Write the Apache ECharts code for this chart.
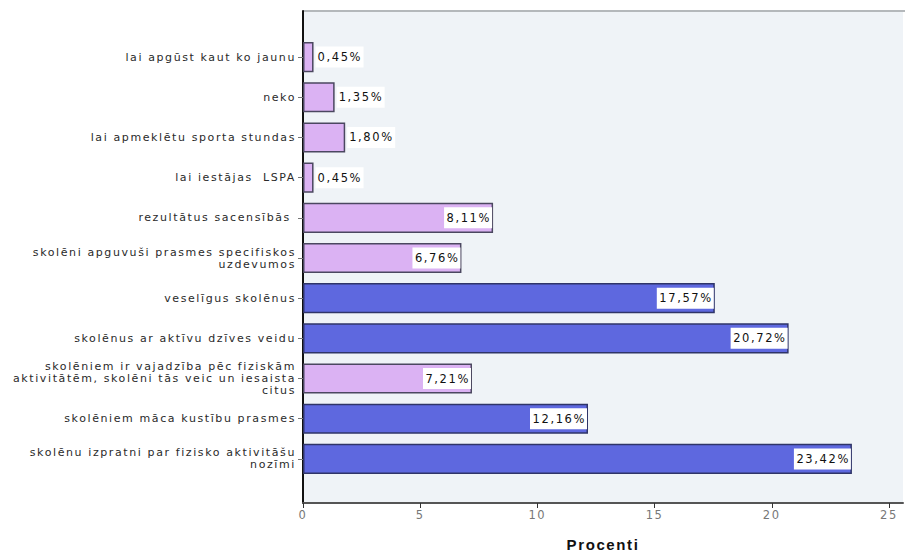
<!DOCTYPE html>
<html>
<head>
<meta charset="utf-8">
<script src="https://cdn.jsdelivr.net/npm/echarts@6/dist/echarts.min.js"></script>
<style>
  html, body { margin: 0; padding: 0; background: #ffffff; }
  #chart { width: 905px; height: 557px; }
  /* wide, airy lettering for every chart text */
  #chart svg text { letter-spacing: 1.6px; }
</style>
</head>
<body>
<div id="chart"></div>
<script>
// Answer categories, listed top to bottom
const categories = [
  'lai apgūst kaut ko jaunu',
  'neko',
  'lai apmeklētu sporta stundas',
  'lai iestājas  LSPA',
  'rezultātus sacensībās ',
  'skolēni apguvuši prasmes specifiskos\nuzdevumos',
  'veselīgus skolēnus',
  'skolēnus ar aktīvu dzīves veidu',
  'skolēniem ir vajadzība pēc fiziskām\naktivitātēm, skolēni tās veic un iesaista\ncitus',
  'skolēniem māca kustību prasmes',
  'skolēnu izpratni par fizisko aktivitāšu\nnozīmi'
];
// Share of respondents, percent
const values = [0.45, 1.35, 1.80, 0.45, 8.11, 6.76, 17.57, 20.72, 7.21, 12.16, 23.42];
// Which bars belong to the darker group
const groups = ['light', 'light', 'light', 'light', 'light', 'light', 'dark', 'dark', 'light', 'dark', 'dark'];
const xTicks = [0, 5, 10, 15, 20, 25];

const FONT = 'DejaVu Sans';
const SPACING = 1.6;

const palette = {
  light: { fill: '#dbb2f3', edge: '#4b4760' },
  dark: { fill: '#5e68df', edge: '#2f3468' }
};

const fmt = v => v.toFixed(2).replace('.', ',') + '%';

// width of a string once the extra letter spacing is applied
const meter = document.createElement('canvas').getContext('2d');
function spacedWidth(text, size) {
  meter.font = size + 'px "' + FONT + '"';
  return meter.measureText(text).width + SPACING * text.length;
}

const barData = values.map((v, i) => {
  const g = palette[groups[i]];
  const inside = v > 5;
  const txt = fmt(v);
  return {
    value: v,
    itemStyle: { color: g.fill, borderColor: g.edge, borderWidth: 1.5 },
    label: {
      position: inside ? 'insideRight' : 'right',
      distance: inside ? 1 : 2,
      width: Math.ceil(spacedWidth(txt, 11.5)),
      align: inside ? 'right' : 'left'
    }
  };
});

const chart = echarts.init(document.getElementById('chart'), null, { renderer: 'svg' });
chart.setOption({
  animation: false,
  textStyle: { fontFamily: FONT },
  grid: [
    // framed plot area with the value axis
    { left: 303, right: 2, top: 11, bottom: 54, show: true, backgroundColor: '#eff3f7', borderWidth: 0 },
    // inner area holding the bars
    { left: 303, right: 2, top: 37, bottom: 78 }
  ],
  xAxis: [
    {
      gridIndex: 0, type: 'value', min: 0, max: 25.6,
      name: 'Procenti', nameLocation: 'middle', nameGap: 34,
      nameTextStyle: { fontSize: 15, fontWeight: 'bold', color: '#111', fontFamily: 'Liberation Sans' },
      axisLine: { show: true, lineStyle: { color: '#555', width: 2 } },
      axisTick: { show: true, length: 5, inside: false, customValues: xTicks, lineStyle: { color: '#333' } },
      axisLabel: { customValues: xTicks, color: '#777', fontSize: 11.5, margin: 6 },
      splitLine: { show: false }
    },
    {
      gridIndex: 1, type: 'value', min: 0, max: 25.6, show: false
    }
  ],
  yAxis: [
    {
      gridIndex: 0, type: 'category', data: [''],
      axisLine: { show: true, lineStyle: { color: '#111', width: 2 } },
      axisTick: { show: false }, axisLabel: { show: false }
    },
    {
      gridIndex: 1, type: 'category', data: categories, inverse: true,
      axisLine: { show: false },
      axisTick: { show: true, length: 5, alignWithLabel: true, lineStyle: { color: '#777' } },
      axisLabel: { color: '#2a2a2a', fontSize: 11, lineHeight: 12, align: 'right', margin: 7, interval: 0 }
    }
  ],
  graphic: [
    // upper frame line of the plot area
    { type: 'line', shape: { x1: 303, y1: 11, x2: 905, y2: 11 }, style: { stroke: '#b4b8bb', lineWidth: 2 } }
  ],
  series: [{
    type: 'bar',
    xAxisIndex: 1, yAxisIndex: 1,
    data: barData,
    barCategoryGap: '25%',
    label: {
      show: true,
      formatter: p => fmt(p.value),
      color: '#111',
      fontSize: 11.5,
      backgroundColor: '#ffffff',
      padding: [5, 1, 4, 2]
    }
  }]
});
</script>
</body>
</html>
